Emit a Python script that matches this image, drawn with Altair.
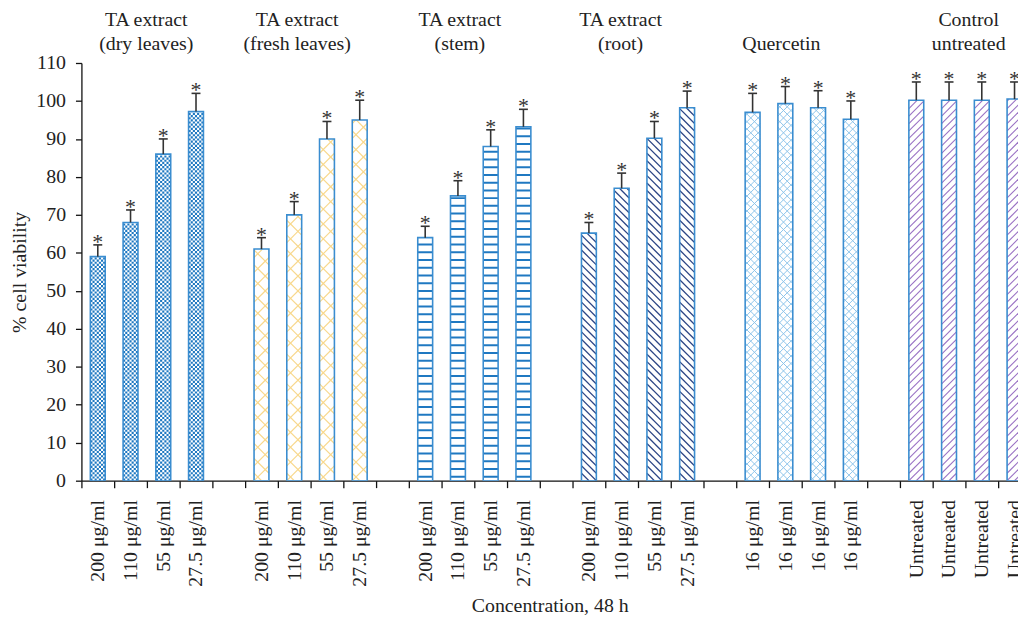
import json
import altair as alt
import pandas as pd

# ---------------- data ----------------
GROUP_TITLES = ["TA extract\n(dry leaves)", "TA extract\n(fresh leaves)", "TA extract\n(stem)",
                "TA extract\n(root)", "\nQuercetin", "Control\nuntreated"]
DOSE_LABELS = [
    ["200 μg/ml", "110 μg/ml", "55 μg/ml", "27.5 μg/ml"],
    ["200 μg/ml", "110 μg/ml", "55 μg/ml", "27.5 μg/ml"],
    ["200 μg/ml", "110 μg/ml", "55 μg/ml", "27.5 μg/ml"],
    ["200 μg/ml", "110 μg/ml", "55 μg/ml", "27.5 μg/ml"],
    ["16 μg/ml", "16 μg/ml", "16 μg/ml", "16 μg/ml"],
    ["Untreated", "Untreated", "Untreated", "Untreated"],
]
MEANS = [
    [59.0, 68.0, 86.0, 97.2],
    [61.0, 70.0, 90.0, 95.0],
    [64.0, 75.0, 88.0, 93.2],
    [65.2, 77.0, 90.2, 98.2],
    [97.0, 99.3, 98.2, 95.2],
    [100.2, 100.2, 100.2, 100.5],
]
ERRORS = [
    [3.1, 3.3, 4.0, 4.8],
    [3.0, 3.5, 4.6, 5.2],
    [3.0, 4.0, 4.4, 4.6],
    [2.8, 4.0, 4.4, 4.4],
    [5.0, 4.5, 4.5, 4.8],
    [4.8, 4.8, 4.8, 4.5],
]
PATTERNS = ["checker", "cross_wide", "hstripe", "back_diag", "cross_fine", "fwd_diag"]

# ---------------- layout / style ----------------
SERIF = "Liberation Serif"
FS = 20
PLOT_W, PLOT_H = 944, 421
PX_X = 33.0                      # pixels per slot
PX_Y = PLOT_H / 110.0            # pixels per % unit
X_MIN = -0.5
X_MAX = X_MIN + PLOT_W / PX_X
BAR_PX = 15.0
HW = BAR_PX / 2 / PX_X
CAP_HW = 4.5 / PX_X
OUTLINE = "#3a8dd0"
TITLE_POS = [1.48, 6.09, 11.06, 15.97, 20.88, 26.6]   # slot position of group titles

rows = []
labels_by_slot = [""] * 29
for g in range(6):
    for j in range(4):
        idx = g * 5 + j
        labels_by_slot[idx] = DOSE_LABELS[g][j]
        m = MEANS[g][j]
        rows.append(dict(idx=idx, xl=idx - HW, xr=idx + HW, cl=idx - CAP_HW, cr=idx + CAP_HW,
                         mean=m, upper=m + ERRORS[g][j], base=0.0, pattern=PATTERNS[g]))
bars = pd.DataFrame(rows)


def diag(xl, v, s, spacing, color, sw, phase=0.0):
    """45-degree hatch lines clipped to a bar, built in pixel space then mapped back."""
    out = []
    W, H = BAR_PX, v * PX_Y
    c = -W - spacing + phase if s > 0 else phase
    top = H if s > 0 else H + W
    while c <= top + spacing:
        if s > 0:
            u0, u1 = max(0.0, -c), min(W, H - c)
        else:
            u0, u1 = max(0.0, c - H), min(W, c)
        if u1 > u0 + 0.2:
            h0, h1 = c + s * u0, c + s * u1
            out.append(dict(x=xl + u0 / PX_X, x2=xl + u1 / PX_X, y=h0 / PX_Y, y2=h1 / PX_Y,
                            color=color, sw=sw))
        c += spacing
    return out


pat_rows, checker_rows = [], []
CELL = BAR_PX / 7.0
for r in rows:
    xl, xr, v, p = r["xl"], r["xr"], r["mean"], r["pattern"]
    if p == "checker":
        n = int(v * PX_Y / CELL)
        for k in range(n):
            yc = (k + 0.5) * CELL / PX_Y
            checker_rows.append(dict(x=xl, x2=xr, y=yc, y2=yc, parity=k % 2))
    elif p == "hstripe":
        step = 7.8
        h = 4.0
        while h < v * PX_Y - 1:
            pat_rows.append(dict(x=xl, x2=xr, y=h / PX_Y, y2=h / PX_Y, color="#1f78c1", sw=2.0))
            h += step
    elif p == "back_diag":
        pat_rows += diag(xl, v, -1, 7.5, "#2c4585", 1.3)
    elif p == "fwd_diag":
        pat_rows += diag(xl, v, +1, 7.5, "#9a72c4", 1.1)
    elif p == "cross_fine":
        pat_rows += diag(xl, v, +1, 7.5, "#8cc3ea", 1.0)
        pat_rows += diag(xl, v, -1, 7.5, "#8cc3ea", 1.0, phase=3.75)
    elif p == "cross_wide":
        pat_rows += diag(xl, v, +1, 15.0, "#f8d88c", 1.2)
        pat_rows += diag(xl, v, -1, 15.0, "#f8d88c", 1.2, phase=7.5)
pats = pd.DataFrame(pat_rows)
checker = pd.DataFrame(checker_rows)

titles = pd.DataFrame(dict(tx=TITLE_POS, title=GROUP_TITLES))

# ---------------- axes ----------------
tick_values = [X_MIN + k for k in range(30)] + [r["idx"] for r in rows]
label_expr = "datum.value % 1 === 0 ? " + json.dumps(labels_by_slot, ensure_ascii=False) + "[datum.value] : ''"

XSCALE = alt.Scale(domain=[X_MIN, X_MAX], nice=False, zero=False)
YSCALE = alt.Scale(domain=[0, 110], nice=False, zero=True)

X_AXIS = alt.Axis(values=tick_values, labelExpr=label_expr, labelAngle=-90, labelAlign="right",
                  labelBaseline="middle", labelOverlap=False, labelFlush=False,
                  labelFont=SERIF, labelFontSize=FS, labelColor="#222", labelPadding=12,
                  tickOpacity={"condition": {"test": "datum.value % 1 !== 0", "value": 1}, "value": 0},
                  tickSize=7, tickWidth=1.3, tickColor="#111", domainColor="#111", domainWidth=1.3,
                  grid=False, title="Concentration, 48 h", titleFont=SERIF, titleFontSize=FS,
                  titleFontWeight="normal", titleColor="#222", titlePadding=9)
Y_AXIS = alt.Axis(values=list(range(0, 111, 10)), labelFont=SERIF, labelFontSize=FS,
                  labelColor="#222", labelPadding=10, labelFlush=False, tickSize=6, tickWidth=1.3,
                  tickColor="#111", domainColor="#111", domainWidth=1.3, grid=False,
                  title="% cell viability", titleFont=SERIF, titleFontSize=FS,
                  titleFontWeight="normal", titleColor="#222", titlePadding=6)


def X(f):
    return alt.X(f, type="quantitative", scale=XSCALE, axis=X_AXIS)


def Y(f):
    return alt.Y(f, type="quantitative", scale=YSCALE, axis=Y_AXIS)


base_bars = alt.Chart(bars)

fill = base_bars.mark_rect(fill="white", clip=True).encode(
    x=X("xl"), x2="xr", y=Y("mean"), y2="base")

pattern = alt.Chart(pats).mark_rule(clip=True).encode(
    x=X("x"), x2="x2", y=Y("y"), y2="y2",
    color=alt.Color("color:N", scale=None),
    strokeWidth=alt.StrokeWidth("sw:Q", scale=None))

chk0 = alt.Chart(checker).transform_filter("datum.parity == 0").mark_rule(
    clip=True, color="#1f78c1", strokeWidth=CELL, strokeDash=[CELL, CELL], strokeDashOffset=0
).encode(x=X("x"), x2="x2", y=Y("y"))
chk1 = alt.Chart(checker).transform_filter("datum.parity == 1").mark_rule(
    clip=True, color="#1f78c1", strokeWidth=CELL, strokeDash=[CELL, CELL], strokeDashOffset=CELL
).encode(x=X("x"), x2="x2", y=Y("y"))

outline = base_bars.mark_rect(filled=False, stroke=OUTLINE, strokeWidth=1.6, clip=True).encode(
    x=X("xl"), x2="xr", y=Y("mean"), y2="base")

err = base_bars.mark_rule(color="#333", strokeWidth=1.6).encode(x=X("idx"), y=Y("mean"), y2="upper")
cap = base_bars.mark_rule(color="#333", strokeWidth=1.6).encode(x=X("cl"), x2="cr", y=Y("upper"))
star = base_bars.mark_text(text="*", font=SERIF, fontSize=22, color="#333", baseline="alphabetic",
                           dy=4).encode(x=X("idx"), y=Y("upper"))

group_titles = alt.Chart(titles).mark_text(
    font=SERIF, fontSize=FS, color="#222", lineBreak="\n", lineHeight=24, baseline="alphabetic",
    align="center", clip=False
).encode(x=X("tx"), y=alt.value(-37), text="title:N")

chart = alt.layer(fill, pattern, chk0, chk1, outline, err, cap, star, group_titles).properties(
    width=PLOT_W, height=PLOT_H, autosize="none",
    padding={"left": 74, "top": 53, "right": 0, "bottom": 140}
).configure_view(stroke=None)

chart.save("out.html", embed_options={"renderer": "svg", "actions": False})
